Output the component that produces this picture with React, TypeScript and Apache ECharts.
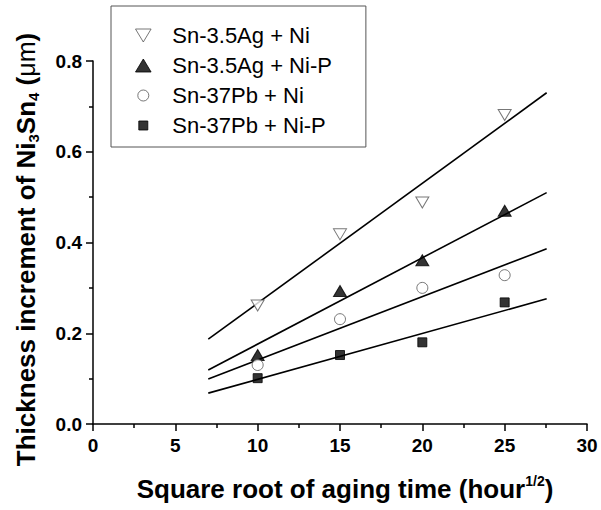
import React, { useEffect, useRef } from "react";
import * as echarts from "echarts";

const FONT = "'Liberation Sans', Arial, sans-serif";

const seriesNames = ["Sn-3.5Ag + Ni", "Sn-3.5Ag + Ni-P", "Sn-37Pb + Ni", "Sn-37Pb + Ni-P"];
const xValues = [10, 15, 20, 25];
const agNi = [0.261, 0.418, 0.488, 0.681];
const agNiP = [0.152, 0.293, 0.361, 0.47];
const pbNi = [0.13, 0.231, 0.3, 0.328];
const pbNiP = [0.101, 0.152, 0.18, 0.268];

const fitX = [7, 27.55];
const fitAgNi = [0.187, 0.73];
const fitAgNiP = [0.119, 0.51];
const fitPbNi = [0.099, 0.386];
const fitPbNiP = [0.068, 0.276];

const xTicks = { min: 0, max: 30, interval: 5 };
const yTicks = { min: 0, max: 0.8, interval: 0.2 };

const pair = (xs: number[], ys: number[]) => xs.map((x, i) => [x, ys[i]]);

export default function App() {
  const ref = useRef<HTMLDivElement>(null);
  useEffect(() => {
    if (!ref.current) return;
    const chart = echarts.init(ref.current, null, { renderer: "svg" });
    const downTri = "path://M0,0L12,0L6,10Z";
    const upTri = "path://M6,0L12,10L0,10Z";
    const square = "path://M0,0L10,0L10,10L0,10Z";
    const legendSquare = "path://M0,0M2,2L11,2L11,11L2,11ZM13,13";
    const legendCircle = "path://M0,0M12,6.5A5.5,5.5,0,1,1,1,6.5A5.5,5.5,0,1,1,12,6.5ZM13,13";
    const fitSeries = [fitAgNi, fitAgNiP, fitPbNi, fitPbNiP].map((ys, i) => ({
      name: "fit" + i,
      type: "line",
      data: pair(fitX, ys),
      showSymbol: false,
      symbol: "none",
      lineStyle: { color: "#000", width: 1.6 },
      z: 1,
    }));
    const axisCommon = {
      axisLine: { show: true, lineStyle: { color: "#000", width: 1.5 } },
      axisTick: { show: true, inside: false, length: 7, lineStyle: { color: "#000", width: 1.5 } },
      minorTick: { show: true, splitNumber: 2, length: 4, lineStyle: { color: "#000", width: 1.5 } },
      splitLine: { show: false },
      minorSplitLine: { show: false },
    };
    chart.setOption({
      animation: false,
      backgroundColor: "#fff",
      grid: { left: 93, right: 14, top: 61, bottom: 86 },
      legend: {
        orient: "vertical",
        left: 111,
        top: 6,
        data: [
          { name: seriesNames[0], icon: downTri },
          { name: seriesNames[1], icon: upTri },
          { name: seriesNames[2], icon: legendCircle },
          { name: seriesNames[3], icon: legendSquare },
        ],
        itemWidth: 48,
        itemHeight: 13,
        itemGap: 4,
        symbolKeepAspect: true,
        padding: [16.5, 34, 8.5, 24],
        borderColor: "#555",
        borderWidth: 1,
        backgroundColor: "#fff",
        itemStyle: { borderWidth: 1 },
        textStyle: { fontSize: 22, fontFamily: FONT, color: "#000", lineHeight: 26 },
        selectedMode: false,
      },
      xAxis: {
        type: "value",
        min: xTicks.min,
        max: xTicks.max,
        interval: xTicks.interval,
        ...axisCommon,
        axisLabel: { color: "#000", fontSize: 19, fontWeight: "bold", fontFamily: FONT, margin: 12 },
        name: "Square root of aging time (hour{sup|1/2})",
        nameLocation: "middle",
        nameGap: 50,
        nameTextStyle: {
          color: "#000",
          fontSize: 26,
          fontWeight: "bold",
          fontFamily: FONT,
          lineHeight: 30,
          padding: [0, 0, 0, 10],
          rich: {
            sup: { fontSize: 14, fontWeight: "bold", fontFamily: FONT, color: "#000", verticalAlign: "top", lineHeight: 12 },
          },
        },
      },
      yAxis: {
        type: "value",
        min: yTicks.min,
        max: yTicks.max,
        interval: yTicks.interval,
        ...axisCommon,
        axisLabel: {
          color: "#000",
          fontSize: 19,
          fontWeight: "bold",
          fontFamily: FONT,
          margin: 11,
          formatter: (v: number) => v.toFixed(1),
        },
        name: "Thickness increment of Ni{sub|3}Sn{sub|4} ({u|μm})",
        nameLocation: "middle",
        nameGap: 52,
        nameTextStyle: {
          color: "#000",
          fontSize: 26,
          fontWeight: "bold",
          fontFamily: FONT,
          lineHeight: 30,
          padding: [0, 14, 0, 0],
          rich: {
            sub: { fontSize: 15, fontWeight: "bold", fontFamily: FONT, color: "#000", verticalAlign: "bottom", lineHeight: 12 },
            u: { fontSize: 25, fontWeight: "normal", fontFamily: FONT, color: "#000", lineHeight: 30 },
          },
        },
      },
      series: [
        ...fitSeries,
        {
          name: seriesNames[0],
          type: "scatter",
          data: pair(xValues, agNi),
          symbol: downTri,
          symbolSize: [13, 11],
          itemStyle: { color: "#fff", borderColor: "#555", borderWidth: 1 },
          z: 3,
        },
        {
          name: seriesNames[1],
          type: "scatter",
          data: pair(xValues, agNiP),
          symbol: upTri,
          symbolSize: [13, 11],
          itemStyle: { color: "#000", borderColor: "#000", borderWidth: 1 },
          z: 3,
        },
        {
          name: seriesNames[2],
          type: "scatter",
          data: pair(xValues, pbNi),
          symbol: "circle",
          symbolSize: 11,
          itemStyle: { color: "#fff", borderColor: "#555", borderWidth: 1 },
          z: 3,
        },
        {
          name: seriesNames[3],
          type: "scatter",
          data: pair(xValues, pbNiP),
          symbol: square,
          symbolSize: 9,
          itemStyle: { color: "#000", borderColor: "#000", borderWidth: 1 },
          z: 3,
        },
      ],
    });
    return () => chart.dispose();
  }, []);
  return <div ref={ref} style={{ width: 601, height: 510, position: "absolute", left: 0, top: 0 }} />;
}
